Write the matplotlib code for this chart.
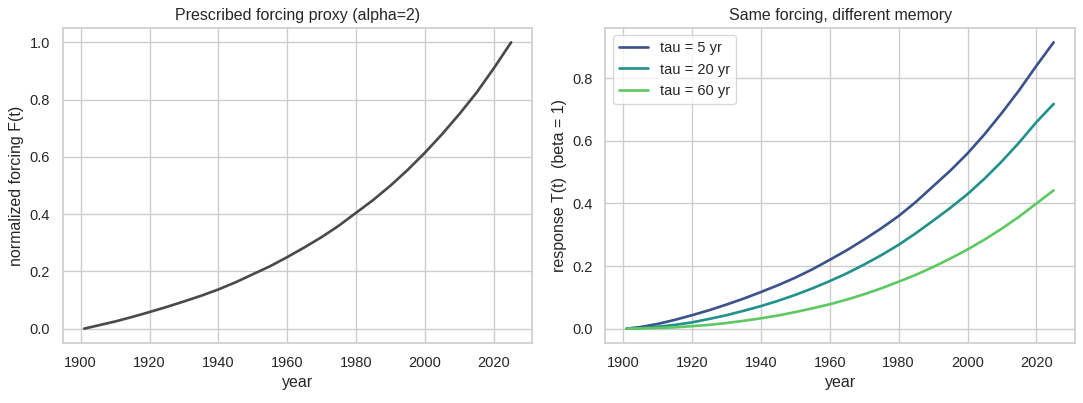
import matplotlib
matplotlib.use("Agg")
import matplotlib.pyplot as plt
import seaborn as sns

# values (every 5 years)
years = [1901, 1905, 1910, 1915, 1920, 1925, 1930, 1935, 1940, 1945, 1950, 1955, 1960,
         1965, 1970, 1975, 1980, 1985, 1990, 1995, 2000, 2005, 2010, 2015, 2020, 2025]
forcing = [0.0, 0.011, 0.025, 0.041, 0.058, 0.076, 0.095, 0.115, 0.137, 0.162, 0.19, 0.218, 0.25,
           0.284, 0.32, 0.36, 0.405, 0.45, 0.50, 0.555, 0.615, 0.68, 0.75, 0.825, 0.91, 1.0]

resp_tau5 = [0.0, 0.005, 0.015, 0.028, 0.043, 0.059, 0.077, 0.096, 0.117, 0.139, 0.163, 0.19, 0.22,
             0.251, 0.285, 0.321, 0.36, 0.405, 0.455, 0.505, 0.56, 0.622, 0.69, 0.762, 0.84, 0.915]
resp_tau20 = [0.0, 0.002, 0.006, 0.012, 0.02, 0.031, 0.043, 0.057, 0.072, 0.089, 0.108, 0.129, 0.152,
              0.177, 0.205, 0.235, 0.268, 0.305, 0.345, 0.386, 0.43, 0.48, 0.535, 0.595, 0.66, 0.718]
resp_tau60 = [0.0, 0.0005, 0.002, 0.004, 0.008, 0.012, 0.018, 0.025, 0.033, 0.042, 0.053, 0.065, 0.078,
              0.093, 0.11, 0.129, 0.15, 0.172, 0.197, 0.224, 0.253, 0.285, 0.32, 0.358, 0.40, 0.442]

taus = [5, 20, 60]
responses = [resp_tau5, resp_tau20, resp_tau60]
colors = ["#3b528b", "#21918c", "#5ec962"]

sns.set_theme(style="whitegrid")
plt.rcParams['font.family'] = ['Liberation Sans', 'DejaVu Sans']

DPI = 96
fig, axes = plt.subplots(1, 2, figsize=(1083 / DPI, 403 / DPI), dpi=DPI)

# left: forcing
axes[0].plot(years, forcing, color="#4a4a4a", linewidth=2)
axes[0].set_title("Prescribed forcing proxy (alpha=2)")
axes[0].set_xlabel("year")
axes[0].set_ylabel("normalized forcing F(t)")

# right: responses for different tau
for tau, resp, c in zip(taus, responses, colors):
    axes[1].plot(years, resp, color=c, linewidth=2, label=f"tau = {tau} yr")
axes[1].set_title("Same forcing, different memory")
axes[1].set_xlabel("year")
axes[1].set_ylabel("response T(t)  (beta = 1)")
axes[1].legend(loc="upper left")

fig.subplots_adjust(left=0.058, right=0.9926, top=0.9305, bottom=0.149, wspace=0.155)
fig.savefig("out.png", dpi=DPI)
